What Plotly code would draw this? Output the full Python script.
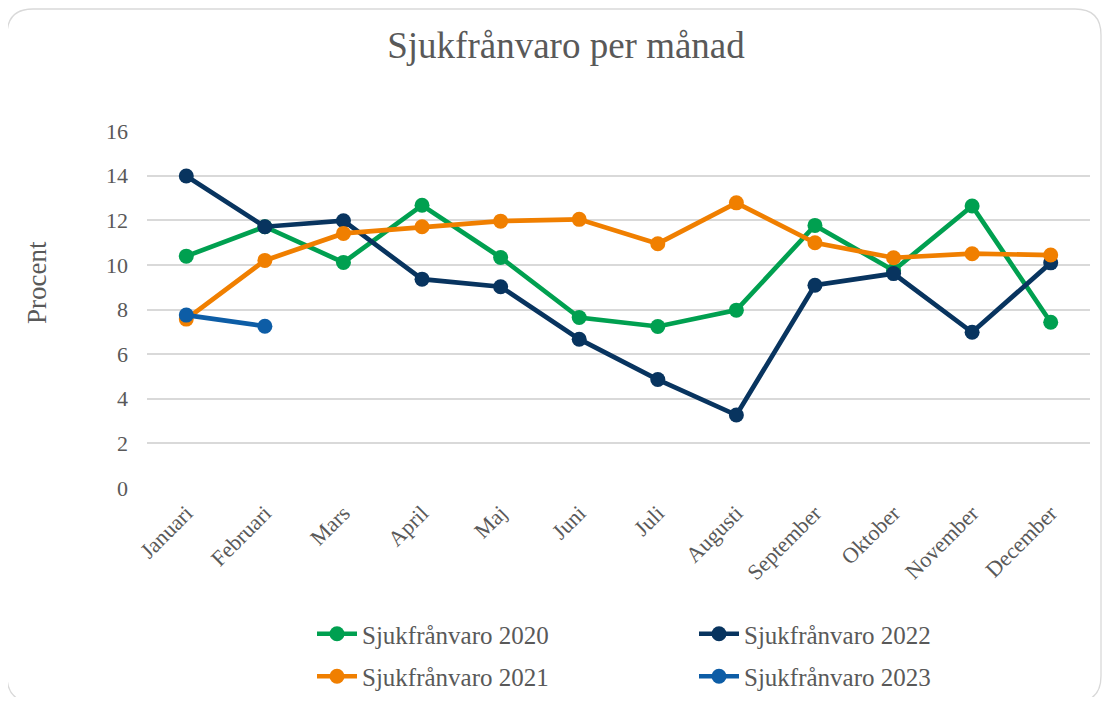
import plotly.graph_objects as go

months = ["Januari", "Februari", "Mars", "April", "Maj", "Juni", "Juli",
          "Augusti", "September", "Oktober", "November", "December"]
s2020 = [10.39, 11.71, 10.11, 12.67, 10.33, 7.64, 7.24, 7.97, 11.77, 9.75, 12.64, 7.43]
s2021 = [7.57, 10.20, 11.41, 11.71, 11.96, 12.04, 10.95, 12.78, 10.99, 10.32, 10.50, 10.44]
s2022 = [13.98, 11.71, 11.98, 9.36, 9.02, 6.67, 4.86, 3.27, 9.09, 9.61, 6.98, 10.09]
s2023 = [7.75, 7.25]

FONT = "Liberation Serif, Times New Roman, serif"
GRAY = "#595959"

# page has an 8px body margin; design in screen pixels, convert to figure pixels
OX, OY = 8, 8
W, H = 1095, 689
L, R, T, B = 147 - OX, 1090 - OX, 131 - OY, 488 - OY


def px(x):  # screen x -> paper
    return (x - OX - L) / (R - L)


def py(y):  # screen y -> paper
    return (B - (y - OY)) / (B - T)


fig = go.Figure()

series = [
    ("Sjukfrånvaro 2020", s2020, "#00A050", "legend", "g20"),
    ("Sjukfrånvaro 2022", s2022, "#08345F", "legend2", "g22"),
    ("Sjukfrånvaro 2021", s2021, "#F07F00", "legend", "g21"),
    ("Sjukfrånvaro 2023", s2023, "#0D5DA6", "legend2", "g23"),
]
for name, vals, col, leg, grp in series:
    fig.add_trace(go.Scatter(
        x=months[:len(vals)], y=vals, name=name, mode="lines+markers",
        line=dict(color=col, width=4.7),
        marker=dict(color=col, size=15, symbol="circle"),
        legend=leg, legendgroup=grp,
    ))

# rounded border of the chart box
x0, x1, y0, y1, r = 7, 1101, 9, 702, 26
path = (f"M {px(x0 + r)},{py(y0)} L {px(x1 - r)},{py(y0)} "
        f"Q {px(x1)},{py(y0)} {px(x1)},{py(y0 + r)} "
        f"L {px(x1)},{py(y1 - r)} Q {px(x1)},{py(y1)} {px(x1 - r)},{py(y1)} "
        f"L {px(x0 + r)},{py(y1)} Q {px(x0)},{py(y1)} {px(x0)},{py(y1 - r)} "
        f"L {px(x0)},{py(y0 + r)} Q {px(x0)},{py(y0)} {px(x0 + r)},{py(y0)} Z")
fig.add_shape(type="path", path=path, xref="paper", yref="paper",
              line=dict(color="#D9D9D9", width=1.3), layer="below")

fig.add_annotation(text="Procent", textangle=-90, x=px(37), y=py(283),
                   xref="paper", yref="paper", showarrow=False,
                   xanchor="center", yanchor="middle",
                   font=dict(family=FONT, size=27, color=GRAY))

legend_common = dict(
    font=dict(family=FONT, size=25, color=GRAY),
    orientation="v", bgcolor="rgba(0,0,0,0)",
    traceorder="grouped", tracegroupgap=7,
    xanchor="left", yanchor="top", itemwidth=40,
)

fig.update_layout(
    width=W, height=H,
    margin=dict(l=L, r=W - R, t=T, b=H - B, autoexpand=False),
    paper_bgcolor="white", plot_bgcolor="white",
    title=dict(text="Sjukfrånvaro per månad", xref="container",
               x=(566 - OX) / W, xanchor="center",
               y=1 - (45 - OY) / H, yanchor="middle",
               font=dict(family=FONT, size=37, color=GRAY)),
    font=dict(family=FONT, color=GRAY),
    xaxis=dict(
        type="category", range=[-0.5, 11.5], tickangle=-45, showgrid=False,
        zeroline=False, showline=False, ticks="", ticklabelstandoff=7,
        tickfont=dict(family=FONT, size=22, color=GRAY),
    ),
    yaxis=dict(
        range=[0, 16], dtick=2, showgrid=True, gridcolor="#D9D9D9", gridwidth=1.5,
        zeroline=False, showline=False, ticks="", ticklabelstandoff=18,
        tickfont=dict(family=FONT, size=22, color=GRAY),
    ),
    legend=dict(x=px(312), y=py(611), **legend_common),
    legend2=dict(x=px(694), y=py(611), **legend_common),
    showlegend=True,
)

fig.write_html("out.html")
